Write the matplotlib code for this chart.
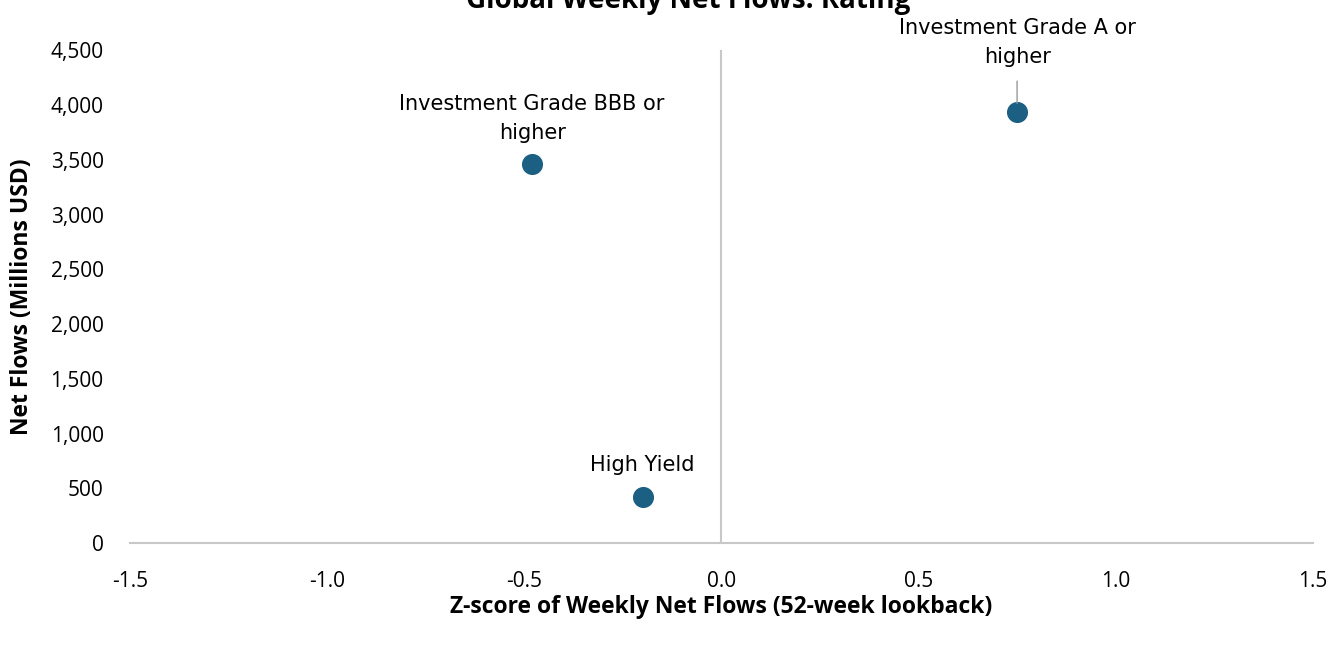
import matplotlib
matplotlib.use('Agg')
import matplotlib.pyplot as plt
from matplotlib.ticker import FuncFormatter

# values
labels = ['Investment Grade A or\nhigher', 'Investment Grade BBB or\nhigher', 'High Yield']
zscore = [0.75, -0.48, -0.20]
flows = [3940, 3460, 420]
x_ticks = [-1.5, -1.0, -0.5, 0.0, 0.5, 1.0, 1.5]
y_ticks = [0, 500, 1000, 1500, 2000, 2500, 3000, 3500, 4000, 4500]

dot_color = '#1b5f83'
grid_gray = '#c8c8c8'
narrow = ['Liberation Sans Narrow', 'DejaVu Sans Condensed', 'DejaVu Sans']

fig = plt.figure(figsize=(13.29, 6.45), dpi=100)
ax = fig.add_axes([0.0978, 0.158, 0.890, 0.764])

ax.scatter(zscore, flows, s=200, color=dot_color, zorder=3)

ax.set_xlim(-1.5, 1.5)
ax.set_ylim(0, 4500)
ax.set_xticks(x_ticks)
ax.set_yticks(y_ticks)
ax.xaxis.set_major_formatter(FuncFormatter(lambda v, p: f'{v:.1f}'))
ax.yaxis.set_major_formatter(FuncFormatter(lambda v, p: f'{v:,.0f}'))
ax.tick_params(length=0, labelsize=15)
ax.tick_params(axis='y', pad=19)
ax.tick_params(axis='x', pad=20)
for lab in ax.get_xticklabels() + ax.get_yticklabels():
    lab.set_family('Open Sans')

for s in ['top', 'right', 'left']:
    ax.spines[s].set_visible(False)
ax.spines['bottom'].set_color(grid_gray)
ax.spines['bottom'].set_linewidth(1.5)
ax.axvline(0, color=grid_gray, lw=1.5, zorder=1)

# labels
ax.annotate(labels[0], (zscore[0], flows[0]), xytext=(0, 32), textcoords='offset points',
            ha='center', va='bottom', fontsize=15, family=narrow, linespacing=1.6,
            arrowprops=dict(arrowstyle='-', color='#999999', lw=1, shrinkA=8, shrinkB=6))
ax.annotate(labels[1], (zscore[1], flows[1]), xytext=(0, 15), textcoords='offset points',
            ha='center', va='bottom', fontsize=15, family=narrow, linespacing=1.6)
ax.annotate(labels[2], (zscore[2], flows[2]), xytext=(0, 16), textcoords='offset points',
            ha='center', va='bottom', fontsize=15, family=narrow)

ax.set_xlabel('Z-score of Weekly Net Flows (52-week lookback)', fontsize=16.5,
              fontweight='bold', family='Open Sans', labelpad=2)
ax.set_ylabel('Net Flows (Millions USD)', fontsize=16.5, fontweight='bold',
              family='Open Sans', labelpad=12)

fig.text(0.518, 0.987, 'Global Weekly Net Flows: Rating', ha='center', va='baseline',
         fontsize=20, fontweight='bold', family='Open Sans')

fig.savefig('out.png', dpi=100)
